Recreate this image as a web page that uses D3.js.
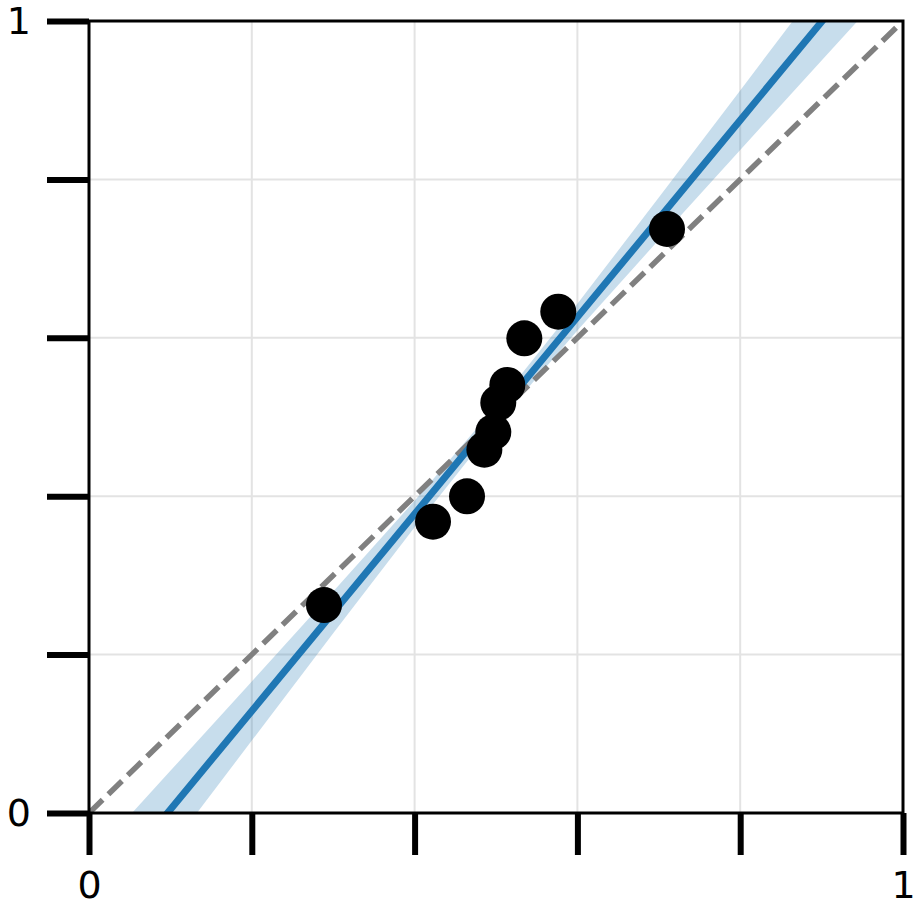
<!DOCTYPE html>
<html>
<head>
<meta charset="utf-8">
<script src="https://cdn.jsdelivr.net/npm/d3@7"></script>
<style>
  body { margin: 0; background: #fff; }
  text { font-family: "DejaVu Sans", sans-serif; }
</style>
</head>
<body>
<svg></svg>
<script>
const margin = { t: 21, r: 18, b: 103, l: 89 };
const size = { w: 921, h: 916 };

// observed points
const xValues = [0.2887, 0.4226, 0.4644, 0.4857, 0.4967, 0.5028, 0.5139, 0.5348, 0.5765, 0.7101];
const yValues = [0.2626, 0.3678, 0.3998, 0.4587, 0.4810, 0.5180, 0.5404, 0.5993, 0.6330, 0.7374];

// fitted line and confidence band, read at x = 0, 0.1, ... 1
const fitX = [0, 0.1, 0.2, 0.3, 0.4, 0.5, 0.6, 0.7, 0.8, 0.9, 1.0];
const fitY = [-0.1198, 0.0045, 0.1288, 0.2532, 0.3775, 0.5018, 0.6261, 0.7504, 0.8748, 0.9991, 1.1234];
const bandLo = [-0.18, -0.0442, 0.0915, 0.2268, 0.3607, 0.4898, 0.6091, 0.7237, 0.8372, 0.9501, 1.0629];
const bandHi = [-0.0596, 0.0532, 0.1661, 0.2796, 0.3943, 0.5138, 0.6431, 0.7771, 0.9124, 1.0481, 1.1839];

const ticks = [0, 0.2, 0.4, 0.6, 0.8, 1];
const tickLabels = { 0: "0", 1: "1" };

const svg = d3.select("svg").attr("width", size.w).attr("height", size.h);

const xScale = d3.scaleLinear().domain([0, 1]).range([margin.l, size.w - margin.r]);
const yScale = d3.scaleLinear().domain([0, 1]).range([size.h - margin.b, margin.t]);

svg.append("defs").append("clipPath").attr("id", "plot")
	.append("rect")
	.attr("x", margin.l).attr("y", margin.t)
	.attr("width", xScale(1) - xScale(0))
	.attr("height", yScale(0) - yScale(1));

// grid
const gridG = svg.append("g").attr("stroke", "#e3e3e3").attr("stroke-width", 2);
ticks.forEach((t) => {
	gridG.append("line")
		.attr("x1", xScale(t)).attr("x2", xScale(t))
		.attr("y1", yScale(0)).attr("y2", yScale(1));
	gridG.append("line")
		.attr("x1", xScale(0)).attr("x2", xScale(1))
		.attr("y1", yScale(t)).attr("y2", yScale(t));
});

const plotG = svg.append("g").attr("clip-path", "url(#plot)");

const fitData = fitX.map((x, i) => ({ x: x, y: fitY[i], lo: bandLo[i], hi: bandHi[i] }));

plotG.append("path")
	.datum(fitData)
	.attr("fill", "#1f77b4")
	.attr("fill-opacity", 0.25)
	.attr("d", d3.area().x((d) => xScale(d.x)).y0((d) => yScale(d.lo)).y1((d) => yScale(d.hi)));

plotG.append("path")
	.datum([0, 1])
	.attr("fill", "none")
	.attr("stroke", "#808080")
	.attr("stroke-width", 5.5)
	.attr("stroke-dasharray", "19,8")
	.attr("d", d3.line().x((d) => xScale(d)).y((d) => yScale(d)));

plotG.append("path")
	.datum(fitData)
	.attr("fill", "none")
	.attr("stroke", "#1f77b4")
	.attr("stroke-width", 7)
	.attr("d", d3.line().x((d) => xScale(d.x)).y((d) => yScale(d.y)));

plotG.append("g")
	.selectAll("circle")
	.data(xValues)
	.join("circle")
	.attr("cx", (d) => xScale(d))
	.attr("cy", (d, i) => yScale(yValues[i]))
	.attr("r", 18)
	.attr("fill", "#000");

// spines
svg.append("rect")
	.attr("x", xScale(0)).attr("y", yScale(1))
	.attr("width", xScale(1) - xScale(0))
	.attr("height", yScale(0) - yScale(1))
	.attr("fill", "none")
	.attr("stroke", "#000")
	.attr("stroke-width", 3);

// axes
const fmt = (d) => tickLabels[d] || "";
const xAxisG = svg.append("g")
	.attr("transform", `translate(0, ${yScale(0)})`)
	.call(d3.axisBottom(xScale).tickValues(ticks).tickSize(42).tickPadding(16).tickFormat(fmt));
const yAxisG = svg.append("g")
	.attr("transform", `translate(${xScale(0)}, 0)`)
	.call(d3.axisLeft(yScale).tickValues(ticks).tickSize(42).tickPadding(16).tickFormat(fmt));

[xAxisG, yAxisG].forEach((g) => {
	g.select(".domain").remove();
	g.selectAll(".tick line").attr("stroke", "#000").attr("stroke-width", 6);
	g.selectAll(".tick text")
		.attr("fill", "#000")
		.style("font-family", '"DejaVu Sans", sans-serif')
		.style("font-size", "38px");
});
</script>
</body>
</html>
